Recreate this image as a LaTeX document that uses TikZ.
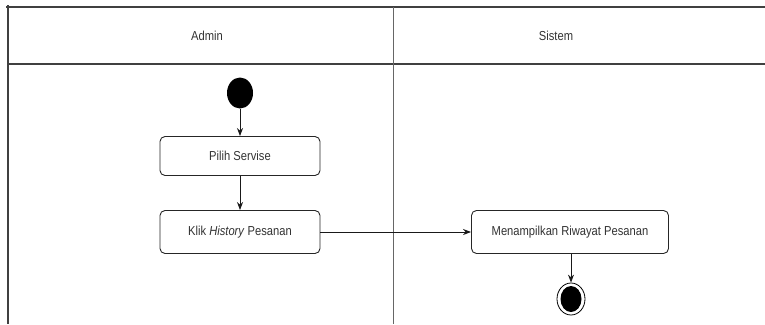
\documentclass[tikz,border=0pt]{standalone}
\usepackage{fontspec}
\setmainfont{Liberation Sans}[FakeStretch=0.86]
\usetikzlibrary{arrows.meta,shapes.geometric}
\begin{document}
\begin{tikzpicture}[x=1pt,y=-1pt,
  lane/.style={draw=black!75,line width=1.3pt},
  act/.style={draw=black!85,line width=0.9pt,rounded corners=5pt,fill=white,
    inner sep=0pt,font=\fontsize{13}{15}\selectfont,text=black!80},
  flow/.style={draw=black!90,line width=0.8pt,-{Stealth[length=8pt,width=6pt]}},
  hdr/.style={font=\fontsize{13}{15}\selectfont,text=black!80}]
\useasboundingbox (0,0) rectangle (765,324);
% swimlanes
\draw[lane] (6,7) -- (765,7);
\draw[lane] (8,64) -- (765,64);
\draw[lane] (8,5) -- (8,324);
\draw[line width=0.8pt,draw=black!60] (393,7) -- (393,324);
\node[hdr] (hadmin) at (207,36) {Admin};
\node[hdr] (hsistem) at (556,36) {Sistem};
% nodes
\node[ellipse,fill=black,minimum width=26pt,minimum height=31pt,inner sep=0pt] (start) at (240,93) {};
\node[act,minimum width=160pt,minimum height=39pt] (pilih) at (240,156) {Pilih Servise};
\node[act,minimum width=160pt,minimum height=43pt] (klik) at (240,232) {Klik \textit{History} Pesanan};
\node[act,minimum width=197pt,minimum height=43pt] (tampil) at (570,232) {Menampilkan Riwayat Pesanan};
\node[ellipse,draw=black,line width=0.8pt,minimum width=28pt,minimum height=32pt,inner sep=0pt] (end) at (571,299) {};
\node[ellipse,fill=black,minimum width=21pt,minimum height=26pt,inner sep=0pt] (endin) at (end) {};
% flows
\draw[flow] (start) -- (pilih);
\draw[flow] (pilih) -- (klik);
\draw[flow] (klik) -- (tampil);
\draw[flow] (tampil.south -| end) -- (end);
\end{tikzpicture}
\end{document}
